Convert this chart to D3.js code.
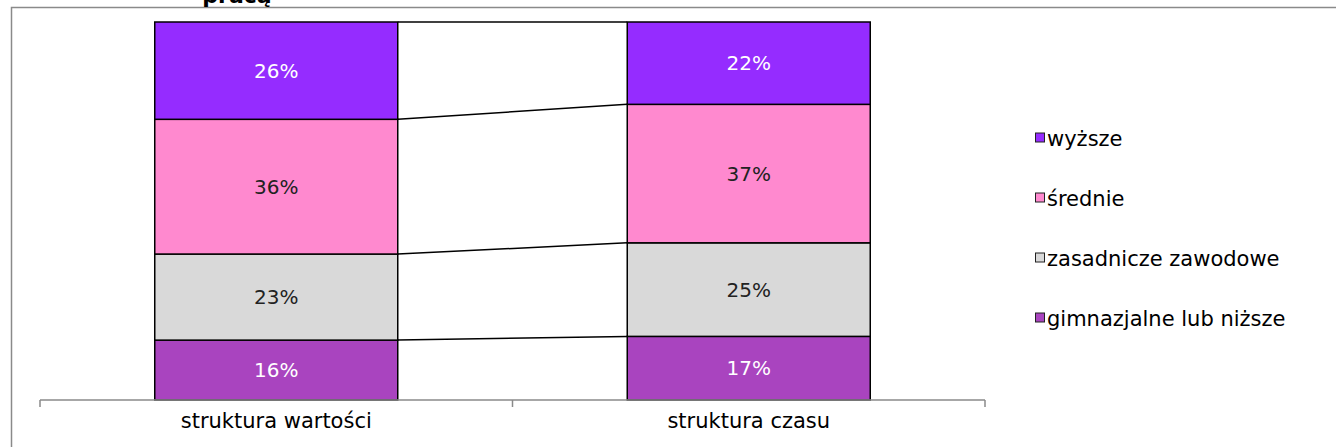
<!DOCTYPE html>
<html>
<head>
<meta charset="utf-8">
<script src="https://cdn.jsdelivr.net/npm/d3@7"></script>
<style>
  html, body { margin: 0; padding: 0; background: #fff; }
  svg { display: block; }
  text { font-family: "DejaVu Sans", Verdana, sans-serif; }
</style>
</head>
<body>
<svg id="chart" width="1336" height="447"></svg>
<script>
// Categories and stacked series (percent shares, 100% stacked columns)
const categories = ["struktura wartości", "struktura czasu"];
const seriesNames = ["gimnazjalne lub niższe", "zasadnicze zawodowe", "średnie", "wyższe"];
const gimnazjalne = [16, 17];
const zasadnicze = [23, 25];
const srednie = [36, 37];
const wyzsze = [26, 22];
const seriesColors = ["#a944bf", "#d9d9d9", "#ff89cf", "#952cff"];
const labelColors = ["#ffffff", "#222222", "#222222", "#ffffff"];
const titleText = "pracą";

const svg = d3.select("#chart");

// plot geometry
const plot = { left: 40, right: 985, top: 22, bottom: 400 };

// chart frame
svg.append("rect")
  .attr("x", 11.5).attr("y", 7.5)
  .attr("width", 1400).attr("height", 500)
  .attr("fill", "none")
  .attr("stroke", "#8a8a8a")
  .attr("stroke-width", 1.5);

// title (last line)
svg.append("text")
  .attr("x", 237).attr("y", 3)
  .attr("text-anchor", "middle")
  .attr("font-size", 22)
  .attr("font-weight", "bold")
  .attr("fill", "#000")
  .text(titleText);

// build table for stacking
const table = categories.map((c, i) => ({
  cat: c,
  [seriesNames[0]]: gimnazjalne[i],
  [seriesNames[1]]: zasadnicze[i],
  [seriesNames[2]]: srednie[i],
  [seriesNames[3]]: wyzsze[i]
}));

const stack = d3.stack()
  .keys(seriesNames)
  .offset(d3.stackOffsetExpand);
const layers = stack(table);

const x = d3.scaleBand()
  .domain(categories)
  .range([plot.left, plot.right])
  .paddingInner(0.4857)
  .paddingOuter(0.24285);

const y = d3.scaleLinear()
  .domain([0, 1])
  .range([plot.bottom, plot.top]);

const color = d3.scaleOrdinal().domain(seriesNames).range(seriesColors);

// series lines connecting the tops of each segment between the two columns
const lineG = svg.append("g");
layers.forEach(layer => {
  for (let i = 0; i < categories.length - 1; i++) {
    lineG.append("line")
      .attr("x1", x(categories[i]) + x.bandwidth())
      .attr("y1", y(layer[i][1]))
      .attr("x2", x(categories[i + 1]))
      .attr("y2", y(layer[i + 1][1]))
      .attr("stroke", "#000")
      .attr("stroke-width", 1.5);
  }
});

// stacked bars
const barG = svg.append("g");
layers.forEach((layer, li) => {
  barG.selectAll(null)
    .data(layer)
    .enter()
    .append("rect")
    .attr("x", d => x(d.data.cat))
    .attr("y", d => y(d[1]))
    .attr("width", x.bandwidth())
    .attr("height", d => y(d[0]) - y(d[1]))
    .attr("fill", color(layer.key))
    .attr("stroke", "#000")
    .attr("stroke-width", 1.5);
});

// value labels
layers.forEach((layer, li) => {
  barG.selectAll(null)
    .data(layer)
    .enter()
    .append("text")
    .attr("x", d => x(d.data.cat) + x.bandwidth() / 2)
    .attr("y", d => (y(d[0]) + y(d[1])) / 2)
    .attr("dy", "0.36em")
    .attr("text-anchor", "middle")
    .attr("font-size", 20)
    .attr("fill", labelColors[li])
    .text(d => d.data[layer.key] + "%");
});

// category axis with ticks between categories
const step = x.step();
const edges = [plot.left].concat(categories.map(c => x(c) + x.bandwidth() + (step - x.bandwidth()) / 2));
const axisG = svg.append("g");
axisG.append("line")
  .attr("x1", plot.left).attr("x2", plot.right)
  .attr("y1", plot.bottom).attr("y2", plot.bottom)
  .attr("stroke", "#8a8a8a").attr("stroke-width", 1.5);
axisG.selectAll(null)
  .data(edges)
  .enter()
  .append("line")
  .attr("x1", d => d).attr("x2", d => d)
  .attr("y1", plot.bottom).attr("y2", plot.bottom + 7)
  .attr("stroke", "#8a8a8a").attr("stroke-width", 1.5);
axisG.selectAll(null)
  .data(categories)
  .enter()
  .append("text")
  .attr("x", d => x(d) + x.bandwidth() / 2)
  .attr("y", 428)
  .attr("text-anchor", "middle")
  .attr("font-size", 21)
  .attr("fill", "#000")
  .text(d => d);

// legend (top series first)
const legendOrder = seriesNames.slice().reverse();
const legend = svg.append("g");
const legendItem = legend.selectAll(null)
  .data(legendOrder)
  .enter()
  .append("g")
  .attr("transform", (d, i) => `translate(1035, ${138 + i * 60})`);
legendItem.append("rect")
  .attr("x", 0.5).attr("y", -5)
  .attr("width", 9).attr("height", 9)
  .attr("fill", d => color(d))
  .attr("stroke", "#222")
  .attr("stroke-width", 1);
legendItem.append("text")
  .attr("x", 12)
  .attr("y", 0)
  .attr("dy", "0.36em")
  .attr("font-size", 21)
  .attr("fill", "#000")
  .text(d => d);
</script>
</body>
</html>
